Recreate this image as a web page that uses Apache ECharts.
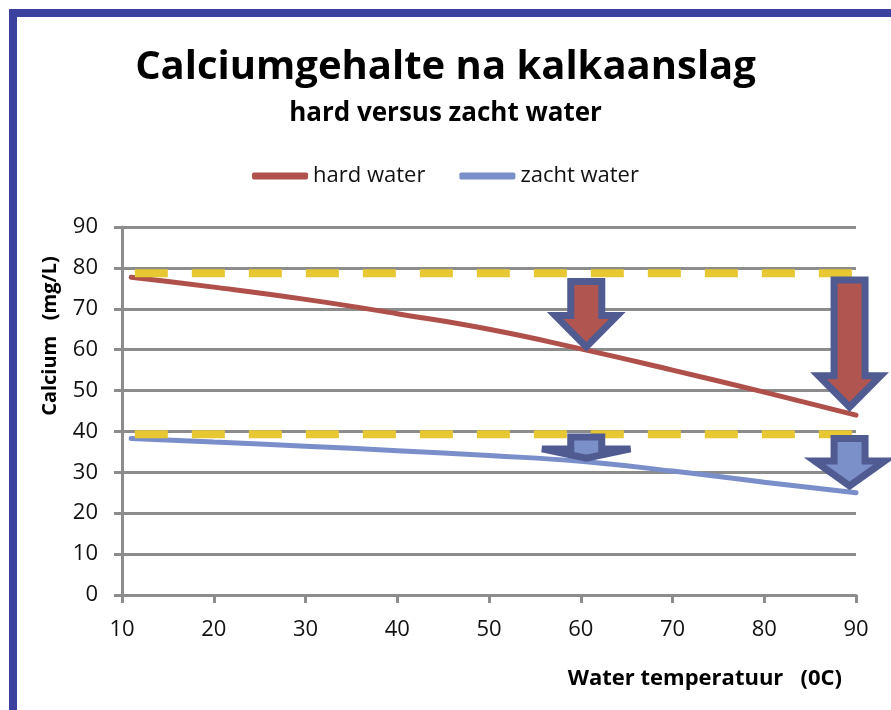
<!DOCTYPE html>
<html>
<head>
<meta charset="utf-8">
<script src="https://cdn.jsdelivr.net/npm/echarts@6/dist/echarts.min.js"></script>
<style>
  html, body { margin: 0; padding: 0; background: #fff; }
  #chart { width: 891px; height: 710px; }
</style>
</head>
<body>
<div id="chart"></div>
<script>
// temperatures (0C) and calcium (mg/L)
const temps = [11, 20, 30, 40, 50, 60, 70, 80, 90];
const hardWater = [77.7, 75.3, 72.3, 68.8, 65.0, 60.2, 55.0, 49.6, 44.0];
const zachtWater = [38.3, 37.4, 36.4, 35.3, 34.1, 32.7, 30.3, 27.6, 25.0];

// dashed reference levels (start level of each water type)
const refX = [11.4, 91.7];
const hardRef = 78.7;
const zachtRef = 39.3;

// block arrows: [temperature, top, tip]
const hardArrows = [[60.6, 77.5, 59.4], [89.3, 77.9, 44.7]];
const zachtArrows = [[60.6, 39.5, 32.2], [89.3, 39.1, 25.4]];

const FONT = '"Open Sans", "Noto Sans", sans-serif';
const GRAY = '#8c8c8c';

function renderArrow(params, api) {
  const x = api.value(0);
  const top = api.coord([x, api.value(1)]);
  const tip = api.coord([x, api.value(2)]);
  const sw = 7, h = sw / 2;
  const len = tip[1] - top[1];
  const head = Math.min(40, len * 0.6);
  const cx = top[0];
  const t = top[1] + h;
  const p = tip[1] - h * 1.5;
  const hb = tip[1] - head + h;
  const shaft = 19 - h;
  const wing = 31 + (40 - head) * 0.6;
  return {
    type: 'polygon',
    shape: {
      points: [
        [cx - shaft, t], [cx + shaft, t], [cx + shaft, hb], [cx + wing, hb],
        [cx, p], [cx - wing, hb], [cx - shaft, hb]
      ]
    },
    style: {
      fill: api.visual('color'), stroke: '#505b92', lineWidth: sw,
      lineJoin: 'miter', miterLimit: 3.5
    }
  };
}

const chart = echarts.init(document.getElementById('chart'));

chart.setOption({
  animation: false,
  title: [
    {
      text: 'Calciumgehalte na kalkaanslag',
      left: 'center', top: 43,
      textStyle: { fontFamily: FONT, fontSize: 40, fontWeight: 'bold', color: '#000' }
    },
    {
      text: 'hard versus zacht water',
      left: 'center', top: 96,
      textStyle: { fontFamily: FONT, fontSize: 26, fontWeight: 'bold', color: '#000' }
    }
  ],
  legend: {
    top: 160,
    left: 'center',
    data: ['hard water', 'zacht water'],
    icon: 'roundRect',
    itemWidth: 56,
    itemHeight: 7,
    itemGap: 34,
    textStyle: { fontFamily: FONT, fontSize: 22, color: '#111' }
  },
  graphic: [
    { type: 'rect', shape: { x: 9, y: 9, width: 882, height: 8 }, style: { fill: '#3c41a0' } },
    { type: 'rect', shape: { x: 9, y: 9, width: 8, height: 701 }, style: { fill: '#3c41a0' } }
  ],
  grid: { left: 122, right: 35, top: 227, bottom: 115 },
  xAxis: {
    type: 'value',
    min: 10, max: 90, interval: 10,
    name: 'Water temperatuur   (0C)',
    nameLocation: 'end',
    nameGap: -14,
    nameTextStyle: {
      fontFamily: FONT, fontSize: 22, fontWeight: 'bold', color: '#000',
      align: 'right', verticalAlign: 'top', padding: [73, 0, 0, 0]
    },
    axisLine: { show: true, lineStyle: { color: GRAY, width: 3 } },
    axisTick: { show: true, length: 8, lineStyle: { color: GRAY, width: 3 } },
    splitLine: { show: false },
    axisLabel: { fontFamily: FONT, fontSize: 22, color: '#111', margin: 24 }
  },
  yAxis: {
    type: 'value',
    min: 0, max: 90, interval: 10,
    name: 'Calcium   (mg/L)',
    nameLocation: 'middle',
    nameGap: 62,
    nameTextStyle: {
      fontFamily: FONT, fontSize: 20, fontWeight: 'bold', color: '#000',
      padding: [0, 0, 0, 150]
    },
    axisLine: { show: true, lineStyle: { color: GRAY, width: 3 } },
    axisTick: { show: true, length: 8, lineStyle: { color: GRAY, width: 3 } },
    splitLine: { lineStyle: { color: GRAY, width: 3 } },
    axisLabel: { fontFamily: FONT, fontSize: 22, color: '#111', margin: 24 }
  },
  series: [
    {
      name: 'hard water',
      type: 'line',
      smooth: true,
      showSymbol: false,
      data: temps.map((t, i) => [t, hardWater[i]]),
      color: '#b0504b',
      lineStyle: { width: 5, cap: 'round' },
      z: 3
    },
    {
      name: 'zacht water',
      type: 'line',
      smooth: true,
      showSymbol: false,
      data: temps.map((t, i) => [t, zachtWater[i]]),
      color: '#7a8fca',
      lineStyle: { width: 5, cap: 'round' },
      z: 3
    },
    {
      name: 'hard ref',
      type: 'line',
      showSymbol: false,
      clip: false,
      data: refX.map(x => [x, hardRef]),
      lineStyle: { color: '#e8c832', width: 8, type: [33, 24] },
      z: 4
    },
    {
      name: 'zacht ref',
      type: 'line',
      showSymbol: false,
      clip: false,
      data: refX.map(x => [x, zachtRef]),
      lineStyle: { color: '#e8c832', width: 8, type: [33, 24] },
      z: 4
    },
    {
      name: 'hard arrows',
      type: 'custom',
      renderItem: renderArrow,
      clip: false,
      data: hardArrows,
      itemStyle: { color: '#b0554f' },
      z: 5
    },
    {
      name: 'zacht arrows',
      type: 'custom',
      renderItem: renderArrow,
      clip: false,
      data: zachtArrows,
      itemStyle: { color: '#7b8fc9' },
      z: 5
    }
  ]
});
</script>
</body>
</html>
